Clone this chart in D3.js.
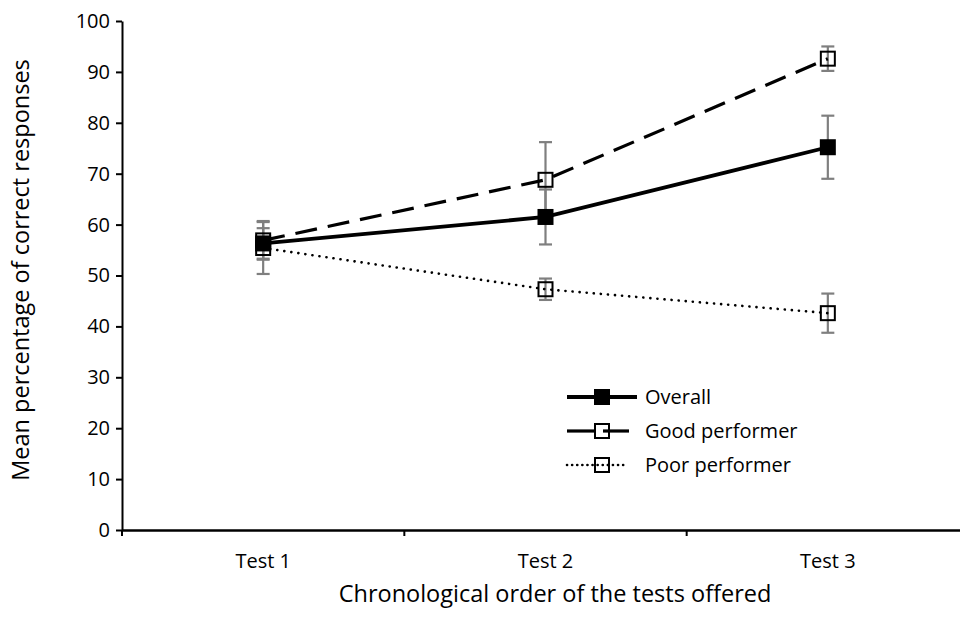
<!DOCTYPE html>
<html>
<head>
<meta charset="utf-8">
<script src="https://cdn.jsdelivr.net/npm/d3@7/dist/d3.min.js"></script>
<style>
  html, body { margin: 0; padding: 0; background: #fff; }
  svg { display: block; font-family: "Open Sans", "Noto Sans", sans-serif; }
</style>
</head>
<body>
<svg id="chart" width="960" height="619"></svg>
<script>
const categories = ["Test 1", "Test 2", "Test 3"];
const overall = [56.3, 61.5, 75.2];
const overallErr = [3.0, 5.4, 6.2];
const good = [56.9, 68.8, 92.6];
const goodErr = [3.8, 7.4, 2.4];
const poor = [55.4, 47.3, 42.6];
const poorErr = [5.1, 2.1, 3.85];
const yTicks = [0, 10, 20, 30, 40, 50, 60, 70, 80, 90, 100];
const seriesNames = ["Overall", "Good performer", "Poor performer"];

(function () {
const svg = d3.select("#chart");
const mLeft = 122, mRight = 969, mTop = 21, mBottom = 530;
const tickFont = 20, titleFont = 23.5;

const x = d3.scaleBand().domain(categories).range([mLeft, mRight]).padding(0);
const y = d3.scaleLinear().domain([0, 100]).range([mBottom, mTop]);
const cx = c => x(c) + x.bandwidth() / 2;

// Axes
const yAxis = d3.axisLeft(y).tickValues(yTicks).tickSize(6).tickSizeOuter(0).tickPadding(6);
const gy = svg.append("g").attr("transform", `translate(${mLeft},0)`).call(yAxis);
gy.attr("font-family", null).attr("font-size", null);
gy.select(".domain").attr("stroke", "#000").attr("stroke-width", 2);
gy.selectAll(".tick line").attr("stroke", "#000").attr("stroke-width", 2);
gy.selectAll(".tick text").attr("font-size", tickFont).attr("fill", "#000");

const xAxis = d3.axisBottom(x).tickSize(0).tickSizeOuter(0);
const gx = svg.append("g").attr("transform", `translate(0,${mBottom})`).call(xAxis);
gx.attr("font-family", null).attr("font-size", null);
gx.select(".domain").attr("stroke", "#000").attr("stroke-width", 2.5);
gx.selectAll(".tick text").attr("font-size", tickFont).attr("fill", "#000")
  .attr("y", 38).attr("dy", null);
svg.append("g").selectAll("line").data(categories).join("line")
  .attr("x1", d => x(d)).attr("x2", d => x(d))
  .attr("y1", mBottom).attr("y2", mBottom + 6)
  .attr("stroke", "#000").attr("stroke-width", 2);

// Axis titles
svg.append("text").attr("x", 555).attr("y", 602).attr("text-anchor", "middle")
  .attr("font-size", titleFont).attr("fill", "#000").text("Chronological order of the tests offered");
svg.append("text").attr("transform", `translate(29,270) rotate(-90)`)
  .attr("text-anchor", "middle").attr("font-size", titleFont).attr("fill", "#000")
  .text("Mean percentage of correct responses");

const series = [
  { vals: poor, errs: poorErr, dash: "0.1 7", width: 2.6, cap: "round", fill: "none" },
  { vals: good, errs: goodErr, dash: "22 11", width: 3.2, cap: "butt", fill: "none" },
  { vals: overall, errs: overallErr, dash: null, width: 3.8, cap: "butt", fill: "#000" }
];

// Error bars
series.forEach(s => {
  const g = svg.append("g").attr("stroke", "#7f7f7f").attr("stroke-width", 2.2);
  categories.forEach((c, i) => {
    const px = cx(c), hi = y(s.vals[i] + s.errs[i]), lo = y(s.vals[i] - s.errs[i]);
    g.append("line").attr("x1", px).attr("x2", px).attr("y1", hi).attr("y2", lo);
    g.append("line").attr("x1", px - 6.5).attr("x2", px + 6.5).attr("y1", hi).attr("y2", hi);
    g.append("line").attr("x1", px - 6.5).attr("x2", px + 6.5).attr("y1", lo).attr("y2", lo);
  });
});

// Lines
const line = d3.line().x((d, i) => cx(categories[i])).y(d => y(d));
series.forEach(s => {
  svg.append("path").datum(s.vals).attr("d", line)
    .attr("fill", "none").attr("stroke", "#000").attr("stroke-width", s.width)
    .attr("stroke-linecap", s.cap)
    .attr("stroke-dasharray", s.dash);
});

// Markers
const ms = 14;
series.forEach(s => {
  svg.append("g").selectAll("rect").data(s.vals).join("rect")
    .attr("x", (d, i) => cx(categories[i]) - ms / 2)
    .attr("y", d => y(d) - ms / 2)
    .attr("width", ms).attr("height", ms)
    .attr("fill", s.fill).attr("stroke", "#000").attr("stroke-width", 2);
});

// Legend
const legY = [397, 431, 465];
const leg = svg.append("g");
leg.append("line").attr("x1", 567).attr("x2", 637).attr("y1", legY[0]).attr("y2", legY[0])
  .attr("stroke", "#000").attr("stroke-width", 3.8);
leg.append("rect").attr("x", 595).attr("y", legY[0] - 7).attr("width", 14).attr("height", 14)
  .attr("fill", "#000").attr("stroke", "#000").attr("stroke-width", 2);
leg.append("line").attr("x1", 567).attr("x2", 594).attr("y1", legY[1]).attr("y2", legY[1])
  .attr("stroke", "#000").attr("stroke-width", 3.2);
leg.append("line").attr("x1", 603).attr("x2", 629).attr("y1", legY[1]).attr("y2", legY[1])
  .attr("stroke", "#000").attr("stroke-width", 3.2);
leg.append("rect").attr("x", 595).attr("y", legY[1] - 7).attr("width", 14).attr("height", 14)
  .attr("fill", "none").attr("stroke", "#000").attr("stroke-width", 2);
leg.append("line").attr("x1", 567).attr("x2", 627).attr("y1", legY[2]).attr("y2", legY[2])
  .attr("stroke", "#000").attr("stroke-width", 2.6).attr("stroke-linecap", "round")
  .attr("stroke-dasharray", "0.1 5");
leg.append("rect").attr("x", 595).attr("y", legY[2] - 7).attr("width", 14).attr("height", 14)
  .attr("fill", "none").attr("stroke", "#000").attr("stroke-width", 2);

seriesNames.forEach((n, i) => {
  leg.append("text").attr("x", 645).attr("y", legY[i]).attr("dy", "0.35em")
    .attr("font-size", tickFont).attr("fill", "#000").text(n);
});
})();
</script>
</body>
</html>
